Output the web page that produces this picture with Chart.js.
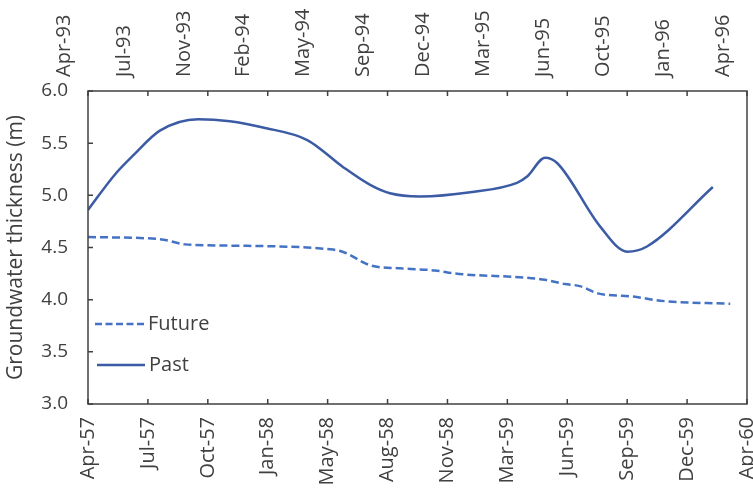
<!DOCTYPE html>
<html>
<head>
<meta charset="utf-8">
<script src="https://cdn.jsdelivr.net/npm/chart.js@4/dist/chart.umd.min.js"></script>
<style>
  html, body { margin: 0; padding: 0; background: #fff; }
  #wrap { width: 753px; height: 488px; }
</style>
</head>
<body>
<div id="wrap"><canvas id="myChart" width="753" height="488"></canvas></div>
<script>
// tick labels, one every 100 days
let bottomLabels = ['Apr-57','Jul-57','Oct-57','Jan-58','May-58','Aug-58','Nov-58','Mar-59','Jun-59','Sep-59','Dec-59','Apr-60'];
let topLabels = ['Apr-93','Jul-93','Nov-93','Feb-94','May-94','Sep-94','Dec-94','Mar-95','Jun-95','Oct-95','Jan-96','Apr-96'];

// days since start of axis
let futureDays = [0, 120, 162, 212, 409, 429, 471, 521, 579, 613, 733, 763, 796, 821, 851, 910, 955, 1072];
let futureValues = [4.60, 4.58, 4.53, 4.52, 4.48, 4.45, 4.33, 4.30, 4.28, 4.25, 4.21, 4.19, 4.15, 4.13, 4.06, 4.03, 3.99, 3.96];

let pastDays = [0, 45, 75, 120, 184, 237, 292, 366, 426, 471, 504, 554, 638, 716, 733, 763, 783, 855, 900, 933, 1043];
let pastValues = [4.86, 5.20, 5.38, 5.62, 5.73, 5.71, 5.65, 5.53, 5.27, 5.10, 5.02, 4.99, 5.03, 5.12, 5.18, 5.36, 5.31, 4.70, 4.46, 4.51, 5.08];

const txt = '#404040';
const blue = '#3B5BA5';
const blue2 = '#4472C4';
const fam = 'Open Sans';

function pts(xs, ys) {
  return xs.map((d, i) => ({ x: d, y: ys[i] }));
}

const frame = {
  id: 'frame',
  afterDraw(chart) {
    const ctx = chart.ctx;
    const a = chart.chartArea;
    const s = chart.scales;
    ctx.save();
    ctx.strokeStyle = txt;
    ctx.lineWidth = 1.5;
    ctx.strokeRect(a.left, a.top, a.right - a.left, a.bottom - a.top);
    ctx.beginPath();
    s.x.ticks.forEach((t, i) => {
      let px = s.x.getPixelForTick(i);
      ctx.moveTo(px, a.bottom); ctx.lineTo(px, a.bottom - 5);
    });
    s.x2.ticks.forEach((t, i) => {
      let px = s.x2.getPixelForTick(i);
      ctx.moveTo(px, a.top); ctx.lineTo(px, a.top + 5);
    });
    s.y.ticks.forEach((t, i) => {
      let py = s.y.getPixelForTick(i);
      ctx.moveTo(a.left, py); ctx.lineTo(a.left + 5, py);
    });
    ctx.stroke();

    // legend inside plot
    ctx.font = '20px "' + fam + '"';
    ctx.fillStyle = txt;
    ctx.textBaseline = 'middle';
    ctx.lineWidth = 2.5;
    ctx.strokeStyle = blue2;
    ctx.setLineDash([7, 3.5]);
    ctx.beginPath(); ctx.moveTo(a.left + 7, a.top + 233); ctx.lineTo(a.left + 57, a.top + 233); ctx.stroke();
    ctx.fillText('Future', a.left + 60, a.top + 233);
    ctx.setLineDash([]);
    ctx.strokeStyle = blue;
    ctx.beginPath(); ctx.moveTo(a.left + 9, a.top + 274); ctx.lineTo(a.left + 57, a.top + 274); ctx.stroke();
    ctx.fillText('Past', a.left + 61, a.top + 274);
    ctx.restore();
  }
};

const ctx = document.getElementById('myChart');

new Chart(ctx, {
  type: 'line',
  data: {
    datasets: [
      {
        label: 'Future',
        data: pts(futureDays, futureValues),
        xAxisID: 'x',
        borderColor: blue2,
        borderWidth: 2.5,
        borderDash: [8, 4],
        pointRadius: 0,
        cubicInterpolationMode: 'monotone',
        fill: false
      },
      {
        label: 'Past',
        data: pts(pastDays, pastValues),
        xAxisID: 'x2',
        borderColor: blue,
        borderWidth: 2.5,
        pointRadius: 0,
        cubicInterpolationMode: 'monotone',
        fill: false
      }
    ]
  },
  options: {
    responsive: false,
    animation: false,
    layout: { padding: { left: 0, right: 6, top: 0, bottom: 0 } },
    plugins: {
      legend: { display: false },
      tooltip: { enabled: false }
    },
    scales: {
      x: {
        type: 'linear',
        position: 'bottom',
        min: 0, max: 1100,
        grid: { display: false, drawTicks: false },
        border: { display: false },
        ticks: {
          stepSize: 100,
          autoSkip: false,
          minRotation: 90, maxRotation: 90,
          padding: 13,
          color: txt,
          font: { family: fam, size: 20 },
          callback: (v, i) => bottomLabels[i]
        },
        afterFit: s => { s.height = 84; s.paddingLeft = 0; s.paddingRight = 0; }
      },
      x2: {
        type: 'linear',
        position: 'top',
        min: 0, max: 1100,
        grid: { display: false, drawTicks: false },
        border: { display: false },
        ticks: {
          stepSize: 100,
          autoSkip: false,
          minRotation: 90, maxRotation: 90,
          padding: 14,
          color: txt,
          font: { family: fam, size: 20 },
          callback: (v, i) => topLabels[i]
        },
        afterFit: s => { s.height = 91; s.paddingLeft = 0; s.paddingRight = 0; }
      },
      y: {
        min: 3, max: 6,
        grid: { display: false, drawTicks: false },
        border: { display: false },
        ticks: {
          stepSize: 0.5,
          padding: 20,
          color: txt,
          font: { family: fam, size: 19 },
          callback: v => v.toFixed(1)
        },
        title: {
          display: true,
          text: 'Groundwater thickness (m)',
          color: txt,
          font: { family: fam, size: 21 },
          padding: { top: 3, bottom: 0 }
        },
        afterFit: s => { s.width = 88; }
      }
    }
  },
  plugins: [frame]
});
</script>
</body>
</html>
